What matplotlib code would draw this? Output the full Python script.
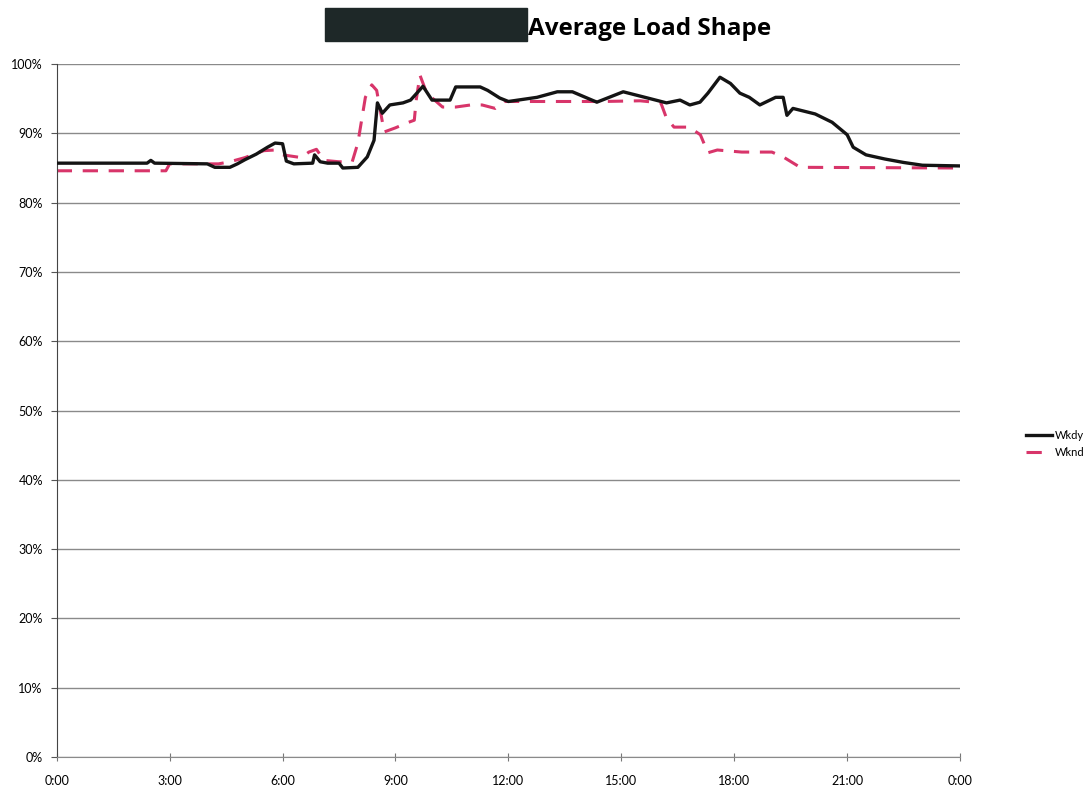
import matplotlib
matplotlib.use("Agg")
import matplotlib.pyplot as plt
from matplotlib.patches import Rectangle

# Weekday average load, (hour of day, % of peak)
wkdy_hours = [0, 2.4, 2.5, 2.6, 4.0, 4.2, 4.6, 4.8, 5.0, 5.3, 5.6, 5.8, 6.0, 6.1, 6.3,
              6.8, 6.85, 7.0, 7.2, 7.5, 7.6, 8.0, 8.25, 8.43, 8.52, 8.65, 8.85, 9.2,
              9.4, 9.6, 9.73, 9.97, 10.45, 10.6, 10.9, 11.25, 11.45, 11.77, 12.0, 12.76,
              13.3, 13.7, 14.35, 15.05, 15.7, 16.2, 16.56, 16.82, 17.09, 17.3, 17.62,
              17.9, 18.15, 18.4, 18.68, 19.1, 19.3, 19.4, 19.56, 20.15, 20.6, 21.0,
              21.16, 21.5, 22.0, 22.5, 23.0, 24.0]
wkdy_load = [85.7, 85.7, 86.1, 85.7, 85.6, 85.1, 85.1, 85.6, 86.2, 87.0, 88.0, 88.6, 88.5,
             86.0, 85.6, 85.7, 86.9, 85.9, 85.7, 85.7, 85.0, 85.1, 86.6, 89.0, 94.4, 92.9,
             94.1, 94.4, 94.8, 96.0, 96.8, 94.8, 94.8, 96.7, 96.7, 96.7, 96.2, 95.1, 94.6,
             95.2, 96.0, 96.0, 94.5, 96.0, 95.1, 94.4, 94.8, 94.1, 94.5, 95.8, 98.1, 97.2,
             95.8, 95.2, 94.1, 95.2, 95.2, 92.6, 93.6, 92.8, 91.6, 89.8, 88.0, 86.9, 86.3,
             85.8, 85.4, 85.3]

# Weekend average load
wknd_hours = [0, 2.9, 3.0, 4.3, 4.6, 5.0, 5.5, 5.8, 6.0, 6.5, 6.7, 6.9, 7.1, 7.5, 7.85,
              8.0, 8.1, 8.2, 8.37, 8.5, 8.58, 8.7, 9.0, 9.3, 9.5, 9.55, 9.65, 9.83, 10.25,
              10.6, 11.0, 11.3, 11.65, 11.9, 13.0, 14.5, 15.5, 16.05, 16.2, 16.4, 16.8,
              17.1, 17.3, 17.55, 18.2, 19.0, 19.3, 19.75, 24.0]
wknd_load = [84.6, 84.6, 85.6, 85.6, 85.9, 86.5, 87.5, 87.6, 86.9, 86.5, 87.3, 87.7, 86.1,
             85.9, 85.9, 88.6, 91.9, 95.2, 97.0, 96.2, 93.8, 90.2, 90.8, 91.5, 91.9, 94.8,
             98.4, 95.8, 93.8, 93.8, 94.1, 94.1, 93.6, 94.6, 94.6, 94.6, 94.7, 94.4, 92.2,
             90.9, 90.9, 89.8, 87.2, 87.6, 87.3, 87.3, 86.6, 85.1, 85.0]

x_ticks = [0, 3, 6, 9, 12, 15, 18, 21, 24]
x_labels = ["0:00", "3:00", "6:00", "9:00", "12:00", "15:00", "18:00", "21:00", "0:00"]
y_ticks = list(range(0, 101, 10))

plt.rcParams["font.family"] = ["Lato", "DejaVu Sans"]

fig = plt.figure(figsize=(10.91, 7.91), dpi=100)
ax = fig.add_axes([0.052, 0.043, 0.828, 0.876])

ax.plot(wkdy_hours, wkdy_load, color="#141414", lw=2.4, label="Wkdy", zorder=3)
ax.plot(wknd_hours, wknd_load, color="#d8356a", lw=2.2, dashes=(5, 3.5),
        label="Wknd", zorder=2)

ax.set_xlim(0, 24)
ax.set_ylim(0, 100)
ax.set_xticks(x_ticks)
ax.set_xticklabels(x_labels, fontsize=9)
ax.set_yticks(y_ticks)
ax.set_yticklabels([f"{v}%" for v in y_ticks], fontsize=9)
ax.tick_params(axis="x", direction="inout", length=6, color="#777777", pad=10)
ax.tick_params(axis="y", direction="out", length=4, color="#555555", pad=6)

ax.grid(axis="y", color="#8a8a8a", lw=1.0)
ax.set_axisbelow(True)
for side in ("top", "right"):
    ax.spines[side].set_visible(False)
ax.spines["left"].set_color("#444444")
ax.spines["bottom"].set_color("#8a8a8a")

# title with blacked-out prefix
fig.patches.append(Rectangle((325 / 1091, 1 - 41 / 791), 202 / 1091, 33 / 791,
                             transform=fig.transFigure, color="#1e2828", zorder=5))
fig.text(528 / 1091, 1 - 29 / 791, "Average Load Shape", fontsize=17.5,
         fontweight="bold", ha="left", va="center", family=["Open Sans", "DejaVu Sans"])

fig.legend(loc="center left", bbox_to_anchor=(1026 / 1091, 1 - 444 / 791),
           frameon=False, fontsize=8, handlelength=2.3, handletextpad=0.3,
           labelspacing=0.5, borderaxespad=0, borderpad=0)

fig.savefig("out.png", dpi=100)
